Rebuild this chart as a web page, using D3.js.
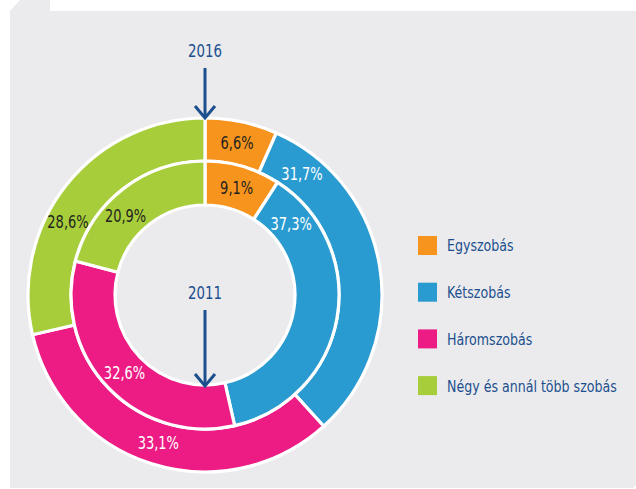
<!DOCTYPE html>
<html>
<head>
<meta charset="utf-8">
<script src="https://cdn.jsdelivr.net/npm/d3@7"></script>
<style>
  html, body { margin: 0; padding: 0; background: #ffffff; }
  svg { display: block; }
  text { font-family: "DejaVu Sans Condensed", "DejaVu Sans", sans-serif; font-stretch: condensed; }
</style>
</head>
<body>
<svg id="chart" width="636" height="489"></svg>
<script>
// ---- data ----
const categories = ["Egyszobás", "Kétszobás", "Háromszobás", "Négy és annál több szobás"];
const values2016 = [6.6, 31.7, 33.1, 28.6];   // outer ring
const values2011 = [9.1, 37.3, 32.6, 20.9];   // inner ring
const ringYears = ["2016", "2011"];

// ---- styles / layout ----
const colors = ["#f7941d", "#299bd1", "#ec1c84", "#a7cd3a"];
const labelColors = ["#231f20", "#ffffff", "#ffffff", "#231f20"];
const labelAlong = [0.5, 0.13, 0.5, 0.4]; // where along each slice the label sits
const navy = "#1b4f8d";
const squeeze = 0.85; // horizontal condensing of the text face

const svg = d3.select("#chart");

// background panel with bevelled tab
svg.append("path")
  .attr("d", "M10,11 L20,0 L50,0 L50,11 L636,11 L636,483 Q636,488 631,488 L10,488 Z")
  .attr("fill", "#ebebed");

const cx = 205, cy = 295;
const rOuterOut = 177, rOuterIn = 134, rInnerOut = 134, rInnerIn = 90;

const g = svg.append("g").attr("transform", `translate(${cx},${cy})`);
const pie = d3.pie().sort(null).value(d => d);
const fmt = v => d3.format(".1f")(v).replace(".", ",") + "%";

function drawRing(values, r0, r1) {
  const arcs = pie(values);
  const arc = d3.arc().innerRadius(r0).outerRadius(r1);
  g.append("g").selectAll("path").data(arcs).join("path")
    .attr("d", arc)
    .attr("fill", (d, i) => colors[i])
    .attr("stroke", "#ffffff")
    .attr("stroke-width", 3.2);
  const rm = (r0 + r1) / 2;
  const angle = (d, i) => d.startAngle + (d.endAngle - d.startAngle) * labelAlong[i];
  g.append("g").selectAll("g").data(arcs).join("g")
    .attr("transform", (d, i) =>
      `translate(${rm * Math.sin(angle(d, i))},${-rm * Math.cos(angle(d, i))}) scale(${squeeze},1)`)
    .append("text")
    .attr("dy", "0.36em")
    .attr("text-anchor", "middle")
    .attr("font-size", 17)
    .attr("fill", (d, i) => labelColors[i])
    .text(d => fmt(d.data));
}

drawRing(values2016, rOuterIn, rOuterOut);
drawRing(values2011, rInnerIn, rInnerOut);

// year markers with arrows
function yearArrow(label, textY, y0, y1) {
  svg.append("g")
    .attr("transform", `translate(${cx},${textY}) scale(0.8,1)`)
    .append("text")
    .attr("text-anchor", "middle")
    .attr("font-size", 18.5)
    .attr("fill", navy)
    .text(label);
  svg.append("line")
    .attr("x1", cx).attr("x2", cx).attr("y1", y0).attr("y2", y1 - 1)
    .attr("stroke", navy).attr("stroke-width", 3);
  svg.append("path")
    .attr("d", `M${cx - 10},${y1 - 13} L${cx},${y1 - 1} L${cx + 10},${y1 - 13}`)
    .attr("fill", "none").attr("stroke", navy).attr("stroke-width", 3);
}
yearArrow(ringYears[0], 57, 68, 119);
yearArrow(ringYears[1], 299, 310, 387);

// legend
const legend = svg.append("g").attr("transform", "translate(418,236)");
const rowH = 46.7;
const rows = legend.selectAll("g").data(categories).join("g")
  .attr("transform", (d, i) => `translate(0,${i * rowH})`);
rows.append("rect")
  .attr("width", 19).attr("height", 19)
  .attr("fill", (d, i) => colors[i]);
rows.append("g")
  .attr("transform", `translate(29,9.5) scale(${squeeze},1)`)
  .append("text")
  .attr("dy", "0.36em")
  .attr("font-size", 16.5)
  .attr("fill", navy)
  .text(d => d);
</script>
</body>
</html>
